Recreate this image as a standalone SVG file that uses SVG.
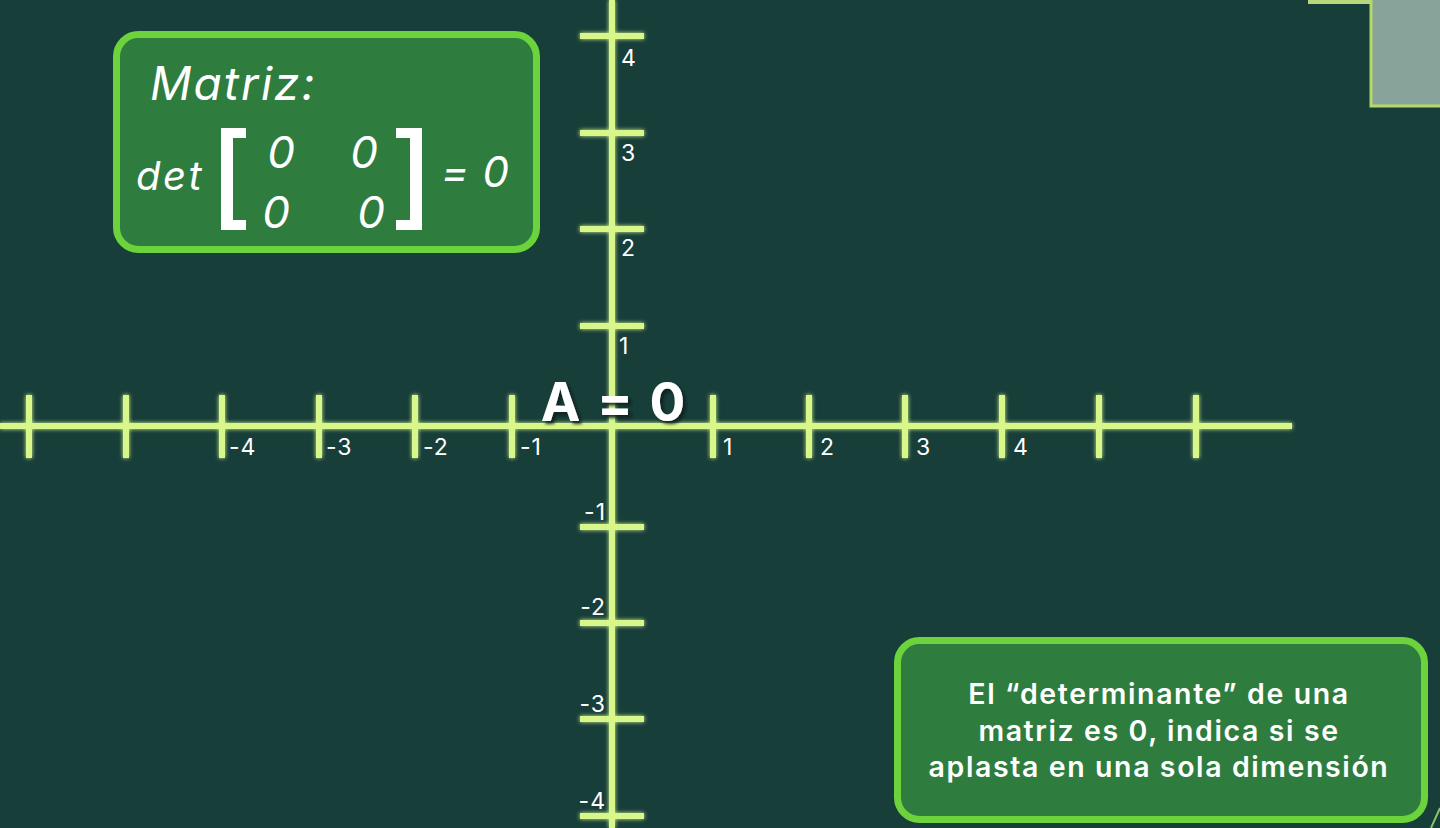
<svg xmlns="http://www.w3.org/2000/svg" width="1440" height="828" viewBox="0 0 1440 828">
<defs>
<filter id="glow" x="-5%" y="-5%" width="110%" height="110%">
<feGaussianBlur in="SourceGraphic" stdDeviation="2" result="b"/>
<feMerge><feMergeNode in="b"/><feMergeNode in="SourceGraphic"/></feMerge>
</filter>
<filter id="shadow" x="-10%" y="-10%" width="130%" height="140%">
<feDropShadow dx="3" dy="3" stdDeviation="1.5" flood-color="#0a1f1c" flood-opacity="0.9"/>
</filter>
</defs>
<style>
.axis{stroke:#d8f78a;stroke-width:6;fill:none;stroke-linecap:butt}
.tick{stroke:#d8f78a;stroke-width:6;fill:none}
.lbl{font-family:Inter,"Liberation Sans",sans-serif;font-size:23px;fill:#ffffff;letter-spacing:1px}
.box{fill:#2e7d3f;stroke:#6cd33c;stroke-width:7}
.it{font-family:Inter,"Liberation Sans",sans-serif;font-style:italic;fill:#ffffff}
.note{font-family:Inter,"Liberation Sans",sans-serif;font-weight:600;font-size:28.5px;fill:#ffffff;letter-spacing:1.6px}
</style>
<rect x="0" y="0" width="1440" height="828" fill="#173e39"/>

<g id="corner-square">
<line x1="1308" y1="2" x2="1440" y2="2" stroke="#b8d97a" stroke-width="4"/>
<rect x="1371" y="-5" width="75" height="111" fill="#88a39a" stroke="#b4d86a" stroke-width="3"/>
</g>
<g id="corner-line">
<line x1="1431" y1="828" x2="1440" y2="808" stroke="#8fbf6a" stroke-width="2"/>
</g>

<g id="axes" filter="url(#glow)">
<line class="axis" x1="0" y1="426" x2="1292" y2="426"/>
<line class="axis" x1="612" y1="0" x2="612" y2="828"/>
<g class="tick">
<line x1="29" y1="395" x2="29" y2="458"/>
<line x1="126" y1="395" x2="126" y2="458"/>
<line x1="222" y1="395" x2="222" y2="458"/>
<line x1="319" y1="395" x2="319" y2="458"/>
<line x1="415" y1="395" x2="415" y2="458"/>
<line x1="512" y1="395" x2="512" y2="458"/>
<line x1="713" y1="395" x2="713" y2="458"/>
<line x1="809" y1="395" x2="809" y2="458"/>
<line x1="905" y1="395" x2="905" y2="458"/>
<line x1="1002" y1="395" x2="1002" y2="458"/>
<line x1="1099" y1="395" x2="1099" y2="458"/>
<line x1="1196" y1="395" x2="1196" y2="458"/>
<line x1="580" y1="36" x2="644" y2="36"/>
<line x1="580" y1="133" x2="644" y2="133"/>
<line x1="580" y1="229" x2="644" y2="229"/>
<line x1="580" y1="326" x2="644" y2="326"/>
<line x1="580" y1="527" x2="644" y2="527"/>
<line x1="580" y1="623" x2="644" y2="623"/>
<line x1="580" y1="719" x2="644" y2="719"/>
<line x1="580" y1="816" x2="644" y2="816"/>
</g>
</g>

<g id="axis-labels">
<text class="lbl" x="229" y="455">-4</text>
<text class="lbl" x="326" y="455">-3</text>
<text class="lbl" x="423" y="455">-2</text>
<text class="lbl" x="520" y="455">-1</text>
<text class="lbl" x="723" y="455">1</text>
<text class="lbl" x="820" y="455">2</text>
<text class="lbl" x="916" y="455">3</text>
<text class="lbl" x="1013" y="455">4</text>
<text class="lbl" x="621" y="66">4</text>
<text class="lbl" x="621" y="161">3</text>
<text class="lbl" x="621" y="256">2</text>
<text class="lbl" x="619" y="354">1</text>
<text class="lbl" x="606" y="520" text-anchor="end">-1</text>
<text class="lbl" x="606" y="615" text-anchor="end">-2</text>
<text class="lbl" x="606" y="712" text-anchor="end">-3</text>
<text class="lbl" x="606" y="809" text-anchor="end">-4</text>
</g>

<g id="a-label" filter="url(#shadow)">
<text x="614" y="421" text-anchor="middle" font-family="Inter,'Liberation Sans',sans-serif" font-weight="700" font-size="53" fill="#ffffff" letter-spacing="2">A = 0</text>
</g>

<g id="matrix-box">
<rect class="box" x="116.5" y="34.5" width="420" height="215" rx="22"/>
<text class="it" x="150" y="100" font-size="46" letter-spacing="2">Matriz:</text>
<text class="it" x="136" y="190" font-size="40" letter-spacing="2.5">det</text>
<path d="M246,128 H221 V230 H246 V220 H233 V138 H246 Z" fill="#ffffff"/>
<path d="M396,128 H422 V230 H396 V220 H410 V138 H396 Z" fill="#ffffff"/>
<text class="it" x="281" y="168" font-size="44" text-anchor="middle">0</text>
<text class="it" x="364" y="168" font-size="44" text-anchor="middle">0</text>
<text class="it" x="276" y="228" font-size="44" text-anchor="middle">0</text>
<text class="it" x="371" y="228" font-size="44" text-anchor="middle">0</text>
<text class="it" x="441" y="187" font-size="42" letter-spacing="1">= 0</text>
</g>

<g id="note-box">
<rect class="box" x="897.5" y="640.5" width="527" height="179" rx="22"/>
<text class="note" x="1159" y="704" text-anchor="middle">El “determinante” de una</text>
<text class="note" x="1159" y="741" text-anchor="middle">matriz es 0, indica si se</text>
<text class="note" x="1159" y="777" text-anchor="middle">aplasta en una sola dimensión</text>
</g>
</svg>
